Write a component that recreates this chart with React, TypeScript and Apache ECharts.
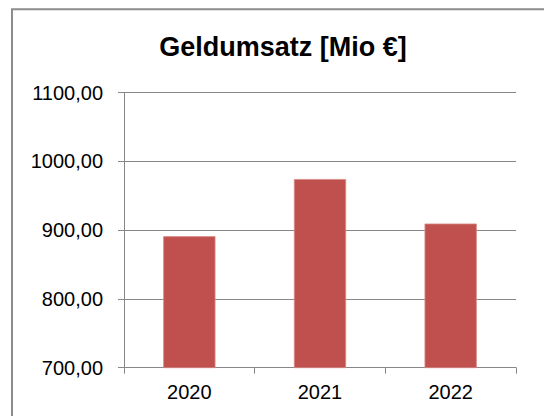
import React, { useEffect, useRef } from "react";
import * as echarts from "echarts";

const titleText = "Geldumsatz [Mio €]";
const categories = ["2020", "2021", "2022"];
const values = [891.3, 974.4, 909.7];
const yMin = 700;
const yMax = 1100;
const yInterval = 100;

const FONT = "'Liberation Sans', Arial, Helvetica, sans-serif";
const GRAY = "#878787";

export default function App() {
  const ref = useRef<HTMLDivElement>(null);
  useEffect(() => {
    if (!ref.current) return;
    const chart = echarts.init(ref.current, undefined, { renderer: "svg" });
    chart.setOption({
      animation: false,
      backgroundColor: "#ffffff",
      title: {
        text: titleText,
        left: 278,
        textAlign: "center",
        top: 28,
        textStyle: {
          fontFamily: FONT,
          fontWeight: "bold",
          fontSize: 27,
          color: "#000000",
        },
      },
      graphic: [
        {
          type: "rect",
          shape: { x: 12, y: 9.3, width: 600, height: 500 },
          style: { fill: "none", stroke: "#8c8c8c", lineWidth: 2 },
          silent: true,
        },
      ],
      grid: { left: 124, right: 28, top: 92.7, bottom: 48.3, containLabel: false },
      xAxis: {
        type: "category",
        data: categories,
        axisLine: { show: true, lineStyle: { color: GRAY, width: 1 } },
        axisTick: { show: true, length: 6, interval: 0, lineStyle: { color: GRAY } },
        axisLabel: {
          margin: 14,
          fontFamily: FONT,
          fontSize: 20,
          color: "#000000",
        },
        splitLine: { show: false },
      },
      yAxis: {
        type: "value",
        min: yMin,
        max: yMax,
        interval: yInterval,
        axisLine: { show: true, lineStyle: { color: GRAY, width: 1 } },
        axisTick: { show: true, length: 6, lineStyle: { color: GRAY } },
        axisLabel: {
          margin: 21,
          fontFamily: FONT,
          fontSize: 20,
          color: "#000000",
          formatter: (v: number) => v.toFixed(2).replace(".", ","),
        },
        splitLine: { show: true, lineStyle: { color: GRAY, width: 1 } },
      },
      series: [
        {
          type: "bar",
          data: values,
          barWidth: "40%",
          itemStyle: {
            color: "#C0504D",
            borderColor: "#d98c8a",
            borderWidth: 0.8,
          },
        },
      ],
    });
    return () => chart.dispose();
  }, []);
  return (
    <div
      ref={ref}
      style={{ position: "fixed", left: 0, top: 0, width: 544, height: 416 }}
    />
  );
}
